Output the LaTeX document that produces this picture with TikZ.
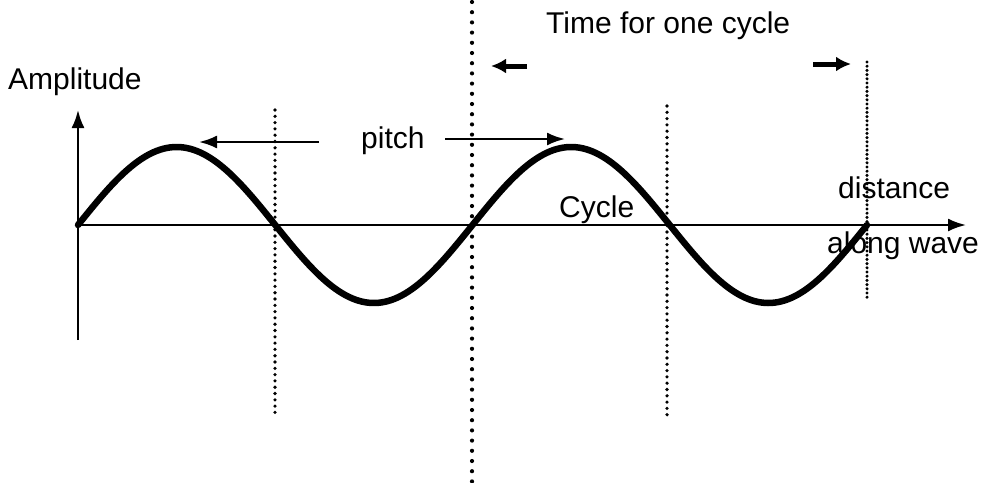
\documentclass[tikz,border=0pt]{standalone}
\usepackage{fontspec}
\setmainfont{Liberation Sans}
\usetikzlibrary{arrows.meta}
\begin{document}
\begin{tikzpicture}[x=1pt,y=-1pt,
  lbl/.style={anchor=base west,inner sep=0pt,font=\fontsize{30}{35}\selectfont},
  thinarrow/.style={line width=2.3pt,-{Latex[length=18pt,width=13pt]}},
  thickarrow/.style={line width=5pt,-{Latex[length=15pt,width=15pt]}},
  bigdots/.style={line width=4.2pt,line cap=round,dash pattern=on 0pt off 10.2pt},
  smalldots/.style={line width=3.6pt,line cap=round,dash pattern=on 0pt off 6.3pt},
  tinydots/.style={line width=3.4pt,line cap=round,dash pattern=on 0pt off 4.2pt},
  wave/.style={line width=6.5pt,line cap=round}]
\useasboundingbox (0,0) rectangle (990,482);
% axes
\coordinate (O) at (78,225);
\coordinate (ytop) at (78,110);
\coordinate (ybot) at (78,340);
\coordinate (xend) at (966,225);
\draw[thinarrow] (ybot) -- (ytop);
\draw[thinarrow] (O) -- (xend);
% dotted lines
\coordinate (d1t) at (275,110); \coordinate (d1b) at (275,416);
\coordinate (d2t) at (472,2);   \coordinate (d2b) at (472,482);
\coordinate (d3t) at (667,106); \coordinate (d3b) at (667,416);
\coordinate (d4t) at (867,62);  \coordinate (d4b) at (867,301);
\draw[smalldots] (d1t) -- (d1b);
\draw[bigdots] (d2t) -- (d2b);
\draw[smalldots] (d3t) -- (d3b);
\draw[tinydots] (d4t) -- (d4b);
% wave
\draw[wave] plot[domain=0:720,samples=240] ({78+1.09583*\x},{225-78*sin(\x)});
% labels
\node[lbl] (amp) at (8,89) {Amplitude};
\node[lbl] (time) at (546,33) {Time for one cycle};
\node[lbl] (pitch) at (361,148) {pitch};
\node[lbl] (cycle) at (559,217) {Cycle};
\node[lbl] (dist) at (838,198) {distance};
\node[lbl] (along) at (827,253) {along wave};
% pitch arrows
\coordinate (pl) at (199,142);
\coordinate (pls) at (319,142);
\coordinate (prs) at (445,139);
\coordinate (pr) at (565,139);
\draw[thinarrow] (pls) -- (pl);
\draw[thinarrow] (prs) -- (pr);
% time arrows
\coordinate (tls) at (527,66); \coordinate (tl) at (491,66);
\coordinate (trs) at (813,64); \coordinate (tr) at (851,64);
\draw[thickarrow] (tls) -- (tl);
\draw[thickarrow] (trs) -- (tr);
\end{tikzpicture}
\end{document}
